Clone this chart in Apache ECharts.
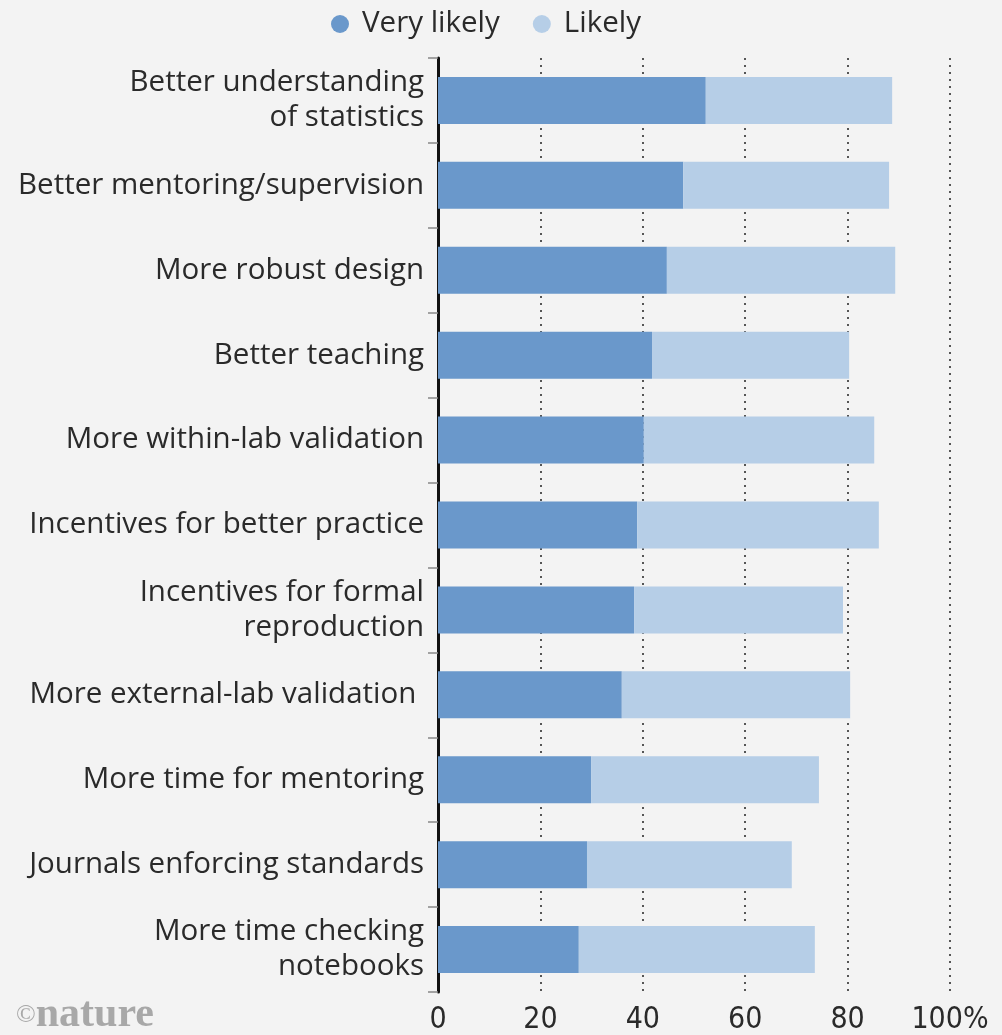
<!DOCTYPE html>
<html><head><meta charset="utf-8">
<script src="https://cdn.jsdelivr.net/npm/echarts@6/dist/echarts.min.js"></script>
<style>html,body{margin:0;padding:0;background:#f3f3f3;}#c{width:1002px;height:1035px;}</style>
</head><body><div id="c"></div>
<script>
const categories = [
  "Better understanding\nof statistics",
  "Better mentoring/supervision",
  "More robust design",
  "Better teaching",
  "More within-lab validation",
  "Incentives for better practice",
  "Incentives for formal\nreproduction",
  "More external-lab validation ",
  "More time for mentoring",
  "Journals enforcing standards",
  "More time checking\nnotebooks"
];
const veryLikely = [52.3, 47.9, 44.7, 41.8, 40.2, 38.9, 38.3, 35.9, 29.9, 29.1, 27.5];
const likely = [36.4, 40.2, 44.6, 38.5, 45.0, 47.2, 40.8, 44.6, 44.5, 40.0, 46.1];
const xTicks = [0, 20, 40, 60, 80, 100];

const font = '"Open Sans"';
const chart = echarts.init(document.getElementById('c'));
chart.setOption({
  backgroundColor: '#f3f3f3',
  animation: false,
  legend: {
    top: 4, left: 326,
    itemWidth: 18, itemHeight: 18, itemGap: 33,
    icon: 'circle',
    textStyle: {fontFamily: font, fontSize: 29.5, color: '#2a2a2a', padding: [0, 0, 0, 8]},
    data: ['Very likely', 'Likely']
  },
  grid: {left: 438, right: 52, top: 58, bottom: 43, containLabel: false},
  xAxis: {
    type: 'value', min: 0, max: 100, interval: 20,
    axisLine: {show: false}, axisTick: {show: false},
    splitLine: {show: true, lineStyle: {type: [2, 5], color: '#222', width: 1.5}},
    axisLabel: {
      fontFamily: '"Liberation Sans Narrow", "DejaVu Sans Condensed", sans-serif', fontSize: 30, color: '#2a2a2a', margin: 13,
      formatter: v => xTicks.includes(v) ? (v === 100 ? '100%' : String(v)) : ''
    }
  },
  yAxis: {
    type: 'category', inverse: true, data: categories,
    axisLine: {show: true, lineStyle: {color: '#111', width: 3}},
    axisTick: {show: true, length: 10, lineStyle: {color: '#888', width: 1.5}},
    axisLabel: {fontFamily: font, fontSize: 29.5, color: '#2a2a2a', margin: 14, lineHeight: 35, align: 'right'}
  },
  series: [
    {name: 'Very likely', type: 'bar', stack: 't', data: veryLikely, barWidth: 47,
     itemStyle: {color: '#6a98cb'}},
    {name: 'Likely', type: 'bar', stack: 't', data: likely, barWidth: 47,
     itemStyle: {color: '#b6cee7'}}
  ],
  graphic: [{
    type: 'text', left: 16, top: 994,
    style: {
      text: '{c|©}{n|nature}',
      rich: {
        c: {font: '26px "Liberation Serif", serif', fill: '#a8a8a8'},
        n: {font: 'bold 42px "Liberation Serif", serif', fill: '#a8a8a8'}
      }
    }
  }]
});
</script></body></html>
